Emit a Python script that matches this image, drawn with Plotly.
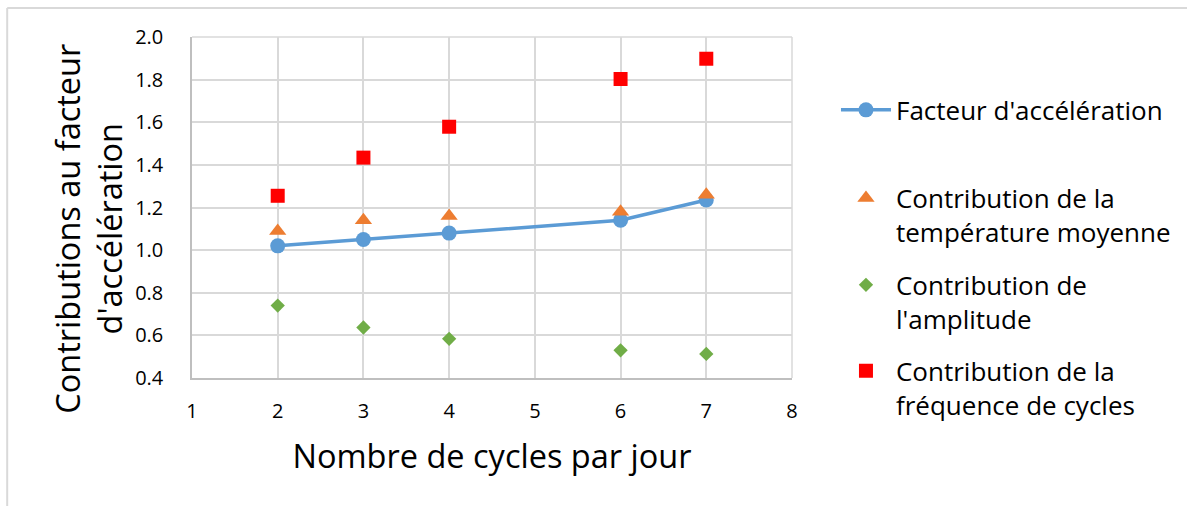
import plotly.graph_objects as go

# Number of cycles per day
cycles = [2, 3, 4, 6, 7]

# Acceleration factor and its contributions
facteur = [1.02, 1.05, 1.08, 1.14, 1.235]
contrib_temperature = [1.09, 1.14, 1.16, 1.18, 1.26]
contrib_amplitude = [0.74, 0.637, 0.584, 0.53, 0.513]
contrib_frequence = [1.255, 1.434, 1.579, 1.803, 1.898]

x_ticks = [1, 2, 3, 4, 5, 6, 7, 8]
y_ticks = [0.4, 0.6, 0.8, 1.0, 1.2, 1.4, 1.6, 1.8, 2.0]

FONT = "Open Sans"
GRID = "#d9d9d9"
LEG_X = 1.0715
LEG_FONT = dict(size=26, family=FONT, color="#000000")
TITLE_FONT = dict(size=32.5, family=FONT, color="#000000")

fig = go.Figure()

fig.add_trace(go.Scatter(
    x=cycles, y=facteur, name="Facteur d'accélération",
    mode="lines+markers",
    line=dict(color="#5b9bd5", width=3.5),
    marker=dict(symbol="circle", size=15, color="#5b9bd5"),
    showlegend=True, legend="legend",
))
fig.add_trace(go.Scatter(
    x=cycles, y=contrib_temperature,
    name="Contribution de la<br>température moyenne",
    mode="markers",
    marker=dict(symbol="triangle-up", size=15, color="#ed7d31"),
    showlegend=True, legend="legend2",
))
fig.add_trace(go.Scatter(
    x=cycles, y=contrib_amplitude,
    name="Contribution de<br>l'amplitude",
    mode="markers",
    marker=dict(symbol="diamond", size=11, color="#70ad47"),
    showlegend=True, legend="legend3",
))
fig.add_trace(go.Scatter(
    x=cycles, y=contrib_frequence,
    name="Contribution de la<br>fréquence de cycles",
    mode="markers",
    marker=dict(symbol="square", size=14, color="#ff0000"),
    showlegend=True, legend="legend4",
))

# Outer chart frame (top and left edges)
fig.add_shape(type="line", xref="paper", yref="paper",
              x0=-0.308, x1=1.70, y0=1.085, y1=1.085,
              line=dict(color=GRID, width=2))
fig.add_shape(type="line", xref="paper", yref="paper",
              x0=-0.308, x1=-0.308, y0=1.085, y1=-0.40,
              line=dict(color=GRID, width=2))
# Right and top edges of the plotting area follow the grid colour
fig.add_shape(type="line", xref="paper", yref="paper",
              x0=1, x1=1, y0=0, y1=1, line=dict(color=GRID, width=1.5))
fig.add_shape(type="line", xref="paper", yref="paper",
              x0=0, x1=1, y0=1, y1=1, line=dict(color=GRID, width=1.5))

# Vertical axis title
fig.add_annotation(
    text="Contributions au facteur<br>d'accélération",
    xref="paper", yref="paper", x=-0.172, y=0.437,
    xanchor="center", yanchor="middle", textangle=-90,
    showarrow=False, font=TITLE_FONT,
)


def legend_box(ycenter):
    return dict(
        x=LEG_X, y=ycenter, xanchor="left", yanchor="middle",
        font=LEG_FONT, itemwidth=50, valign="top",
        bgcolor="rgba(0,0,0,0)",
    )


fig.update_layout(
    width=1187, height=506,
    margin=dict(l=192, r=394, t=37, b=128),
    paper_bgcolor="white", plot_bgcolor="white",
    font=dict(family=FONT, color="#000000"),
    showlegend=True,
    legend=legend_box(0.786),
    legend2=legend_box(0.478),
    legend3=legend_box(0.223),
    legend4=legend_box(-0.029),
    xaxis=dict(
        range=[1, 8], tickvals=x_ticks, ticktext=[str(v) for v in x_ticks],
        showgrid=True, gridcolor=GRID, gridwidth=1.5,
        showline=True, linecolor="#bfbfbf", linewidth=1.5, mirror=False,
        zeroline=False, ticks="", ticklabelstandoff=14,
        tickfont=dict(size=20, family=FONT),
        title=dict(text="Nombre de cycles par jour",
                   font=TITLE_FONT, standoff=22),
    ),
    yaxis=dict(
        range=[0.4, 2.0], tickvals=y_ticks,
        ticktext=[f"{v:.1f}" for v in y_ticks],
        showgrid=True, gridcolor=GRID, gridwidth=1.5,
        showline=True, linecolor="#bfbfbf", linewidth=1.5,
        zeroline=False, ticks="", ticklabelstandoff=23,
        tickfont=dict(size=20, family=FONT),
    ),
)

fig.write_html("out.html")
